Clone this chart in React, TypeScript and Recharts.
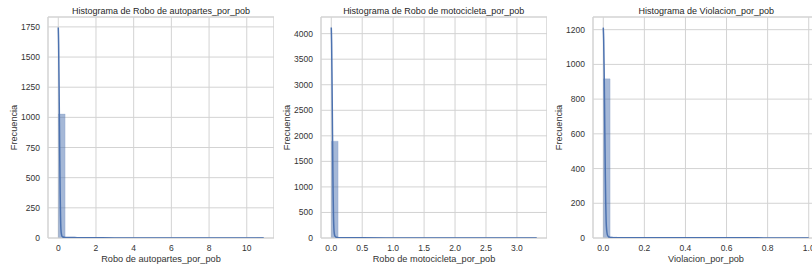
import React from 'react';
import {
  ComposedChart,
  Area,
  Line,
  XAxis,
  YAxis,
  CartesianGrid,
  ReferenceArea,
} from 'recharts';

// counts per bin (30 bins each)
const autopartesCounts = [1028, 4, 2, 1, 1, 0, 1, 0, 0, 1, 0, 0, 0, 0, 1, 0, 0, 0, 0, 0, 0, 0, 0, 0, 0, 0, 0, 0, 0, 2];
const motocicletaCounts = [1896, 8, 3, 2, 1, 1, 0, 0, 1, 0, 0, 0, 0, 0, 0, 0, 0, 0, 0, 0, 0, 0, 0, 0, 0, 0, 0, 0, 0, 1];
const violacionCounts = [917, 6, 3, 2, 2, 1, 1, 0, 0, 1, 1, 0, 0, 0, 0, 1, 0, 0, 0, 0, 0, 0, 0, 0, 0, 0, 0, 0, 0, 1];

// kde curves
const autopartesKdeX = [0, 0.02, 0.04, 0.06, 0.08, 0.1, 0.12, 0.14, 0.17, 0.2, 0.25, 0.3, 0.5, 1, 2, 3, 4, 5, 6, 7, 8, 9, 10, 10.9];
const autopartesKdeY = [1745, 1600, 1300, 960, 640, 370, 180, 75, 30, 14, 8, 6, 4, 3, 2, 1, 1, 1, 1, 1, 1, 1, 1, 1];
const motocicletaKdeX = [0, 0.006, 0.012, 0.018, 0.024, 0.03, 0.036, 0.042, 0.05, 0.06, 0.08, 0.1, 0.15, 0.3, 0.5, 1, 1.5, 2, 2.5, 3, 3.32];
const motocicletaKdeY = [4120, 3800, 3100, 2300, 1500, 850, 420, 190, 80, 35, 15, 10, 6, 4, 3, 2, 1, 1, 1, 1, 1];
const violacionKdeX = [0, 0.002, 0.004, 0.006, 0.008, 0.01, 0.012, 0.014, 0.017, 0.02, 0.025, 0.03, 0.04, 0.06, 0.1, 0.2, 0.3, 0.4, 0.5, 0.6, 0.7, 0.8, 0.9, 1.0];
const violacionKdeY = [1212, 1140, 980, 780, 560, 360, 200, 95, 40, 18, 8, 5, 3, 2, 2, 1, 1, 1, 1, 1, 1, 0.5, 0.5, 0.5];

const autopartesXTicks = [0, 2, 4, 6, 8, 10];
const autopartesYTicks = [0, 250, 500, 750, 1000, 1250, 1500, 1750];
const motocicletaXTicks = [0, 0.5, 1, 1.5, 2, 2.5, 3];
const motocicletaYTicks = [0, 500, 1000, 1500, 2000, 2500, 3000, 3500, 4000];
const violacionXTicks = [0, 0.2, 0.4, 0.6, 0.8, 1.0];
const violacionYTicks = [0, 200, 400, 600, 800, 1000, 1200];

const BLUE = '#4c72b0';
const GRID = '#d3d3d3';
const TEXT = '#333333';
const FONT = '"Liberation Sans", Arial, sans-serif';

const PLOT_W = 226;
const AXIS_W = 48;
const CHART_H = 273;
const TOP = 17;
const XAXIS_H = 35;

type PanelProps = {
  left: number;
  title: string;
  xLabel: string;
  counts: number[];
  dataMax: number;
  kdeX: number[];
  kdeY: number[];
  xTicks: number[];
  yTicks: number[];
  yMax: number;
  digits: number;
};

const Panel = ({ left, title, xLabel, counts, dataMax, kdeX, kdeY, xTicks, yTicks, yMax, digits }: PanelProps) => {
  const binW = dataMax / counts.length;
  // histogram drawn as a step area over bin edges
  const edges = counts.map((c, i) => ({ x: binW * i, count: c }));
  edges.push({ x: dataMax, count: counts[counts.length - 1] });
  const kde = kdeX.map((x, i) => ({ x, kde: kdeY[i] }));
  const pad = dataMax * 0.05;
  const xMin = -pad;
  const xMax = dataMax + pad;

  return (
    <div style={{ position: 'absolute', left, top: 0, width: AXIS_W + PLOT_W, height: CHART_H }}>
      <div
        style={{
          position: 'absolute',
          left: AXIS_W,
          width: PLOT_W,
          top: 5,
          textAlign: 'center',
          fontSize: 9,
          lineHeight: '12px',
          color: '#262626',
          fontFamily: FONT,
          whiteSpace: 'nowrap',
        }}
      >
        {title}
      </div>
      <ComposedChart
        width={AXIS_W + PLOT_W}
        height={CHART_H}
        data={edges}
        margin={{ top: TOP, right: 0, bottom: 0, left: 0 }}
        style={{ fontFamily: FONT }}
      >
        <CartesianGrid stroke={GRID} strokeWidth={1} />
        <XAxis
          dataKey="x"
          type="number"
          domain={[xMin, xMax]}
          ticks={xTicks}
          allowDataOverflow
          height={XAXIS_H}
          tickSize={0}
          tickMargin={7}
          axisLine={false}
          tickLine={false}
          tick={{ fill: TEXT, fontSize: 8.5 }}
          tickFormatter={(v: number) => v.toFixed(digits)}
          label={({ viewBox }: any) => (
            <text
              x={viewBox.x + viewBox.width / 2}
              y={viewBox.y + 21}
              textAnchor="middle"
              fill={TEXT}
              fontSize={9.2}
              dominantBaseline="central"
            >
              {xLabel}
            </text>
          )}
        />
        <YAxis
          type="number"
          domain={[0, yMax]}
          ticks={yTicks}
          allowDataOverflow
          width={AXIS_W}
          tickSize={0}
          tickMargin={8}
          axisLine={false}
          tickLine={false}
          tick={{ fill: TEXT, fontSize: 8.5 }}
          label={({ viewBox }: any) => {
            const cx = viewBox.x + 14;
            const cy = viewBox.y + viewBox.height / 2;
            return (
              <text
                x={cx}
                y={cy}
                transform={`rotate(-90 ${cx} ${cy})`}
                textAnchor="middle"
                dominantBaseline="central"
                fill={TEXT}
                fontSize={9.2}
              >
                Frecuencia
              </text>
            );
          }}
        />
        <Area
          dataKey="count"
          type="stepAfter"
          fill={BLUE}
          fillOpacity={0.5}
          stroke={BLUE}
          strokeOpacity={0.25}
          strokeWidth={0.6}
          baseValue={0}
          dot={false}
          activeDot={false}
          isAnimationActive={false}
        />
        <Line
          data={kde}
          dataKey="kde"
          type="monotone"
          stroke={BLUE}
          strokeWidth={1.5}
          dot={false}
          activeDot={false}
          isAnimationActive={false}
        />
        <ReferenceArea x1={xMin} x2={xMax} y1={0} y2={yMax} fill="none" stroke={GRID} strokeWidth={1} />
      </ComposedChart>
    </div>
  );
}

export default function App() {
  return (
    <div
      style={{
        position: 'fixed',
        left: 0,
        top: 0,
        width: 812,
        height: 273,
        overflow: 'hidden',
        background: '#fff',
      }}
    >
      <Panel
        left={0}
        title="Histograma de Robo de autopartes_por_pob"
        xLabel="Robo de autopartes_por_pob"
        counts={autopartesCounts}
        dataMax={10.9}
        kdeX={autopartesKdeX}
        kdeY={autopartesKdeY}
        xTicks={autopartesXTicks}
        yTicks={autopartesYTicks}
        yMax={1832}
        digits={0}
      />
      <Panel
        left={272.7}
        title="Histograma de Robo de motocicleta_por_pob"
        xLabel="Robo de motocicleta_por_pob"
        counts={motocicletaCounts}
        dataMax={3.32}
        kdeX={motocicletaKdeX}
        kdeY={motocicletaKdeY}
        xTicks={motocicletaXTicks}
        yTicks={motocicletaYTicks}
        yMax={4326}
        digits={1}
      />
      <Panel
        left={545.3}
        title="Histograma de Violacion_por_pob"
        xLabel="Violacion_por_pob"
        counts={violacionCounts}
        dataMax={1.0}
        kdeX={violacionKdeX}
        kdeY={violacionKdeY}
        xTicks={violacionXTicks}
        yTicks={violacionYTicks}
        yMax={1273}
        digits={1}
      />
    </div>
  );
}
